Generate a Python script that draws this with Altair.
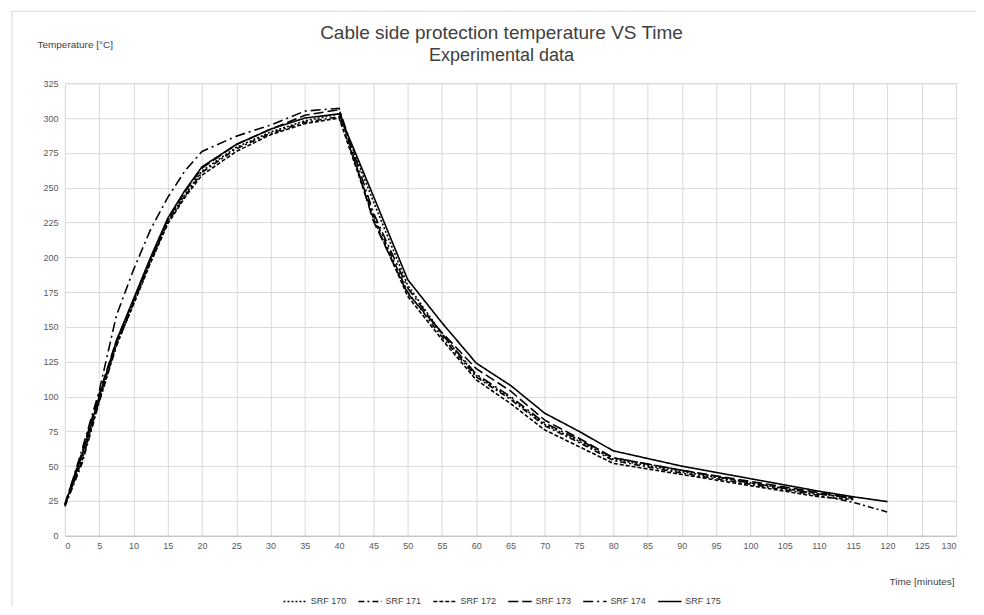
import altair as alt
import pandas as pd

FONT = "Liberation Sans Narrow, Liberation Sans, sans-serif"

times = [0, 2.5, 5, 7.5, 10, 12.5, 15, 17.5, 20, 25, 30, 35, 40, 45, 50, 55, 60, 65, 70, 75, 80, 90, 100, 110, 115, 120]
series_names = ["SRF 170", "SRF 171", "SRF 172", "SRF 173", "SRF 174", "SRF 175"]

srf170 = [22, 55, 98, 138, 168, 198, 226, 245, 262, 279, 290, 298, 303, 240, 180, 145, 115, 99, 80, 68, 55, 46, 38, 30, 27, None]
srf171 = [21, 52, 96, 136, 167, 197, 225, 244, 261, 278, 289, 297, 301, 230, 175, 143, 114, 98, 79, 67, 54, 45, 37, 29, 24, 17]
srf172 = [22, 54, 97, 137, 166, 196, 224, 243, 259, 276, 288, 296, 300, 228, 172, 141, 112, 95, 76, 64, 52, 44, 36, 28, 26, None]
srf173 = [23, 60, 102, 140, 169, 199, 227, 247, 264, 281, 292, 302, 306, 226, 174, 146, 120, 104, 83, 70, 56, 47, 39, 31, 27, None]
srf174 = [22, 62, 104, 158, 191, 220, 243, 262, 276, 287, 295, 305, 307, 232, 178, 145, 116, 100, 81, 69, 56, 47, 38, 30, 27, None]
srf175 = [22, 58, 100, 140, 170, 200, 228, 248, 265, 281, 292, 300, 303, 244, 184, 153, 124, 108, 88, 75, 61, 50, 41, 32, 28, 24.5]

title_lines = ["Cable side protection temperature VS Time", "Experimental data"]

all_values = [srf170, srf171, srf172, srf173, srf174, srf175]
dash_styles = [[2, 2], [6, 3, 2, 3], [4, 2], [10, 4], [10, 4, 2, 4], [1, 0]]

rows = []
for name, vals in zip(series_names, all_values):
    for t, v in zip(times, vals):
        if v is not None:
            rows.append({"time": t, "temp": v, "series": name})
df = pd.DataFrame(rows)

x_ticks = list(range(0, 131, 5))
y_ticks = list(range(0, 326, 25))

lines = alt.Chart(df).mark_line(strokeWidth=1.6, color="black").encode(
    x=alt.X("time:Q",
            scale=alt.Scale(domain=[0, 130], nice=False),
            axis=alt.Axis(values=x_ticks, title="Time  [minutes]", titleAngle=0,
                          titleX=890, titleY=46, titleAlign="right", titleBaseline="middle",
                          titleFontWeight="normal", titleFontSize=10, titleColor="#404040",
                          labelFontSize=9, labelColor="#595959", ticks=False,
                          labelPadding=6, domainColor="#bfbfbf", gridColor="#d9d9d9")),
    y=alt.Y("temp:Q",
            scale=alt.Scale(domain=[0, 325], nice=False),
            axis=alt.Axis(values=y_ticks, title="Temperature [°C]", titleAngle=0,
                          titleX=-28, titleY=-39, titleAlign="left", titleBaseline="middle",
                          titleFontWeight="normal", titleFontSize=10, titleColor="#404040",
                          labelFontSize=9, labelColor="#595959", ticks=False,
                          labelPadding=7, domainColor="#d9d9d9", gridColor="#d9d9d9")),
    strokeDash=alt.StrokeDash("series:N",
                              scale=alt.Scale(domain=series_names, range=dash_styles),
                              legend=alt.Legend(title=None, orient="none", direction="horizontal",
                                                legendX=218, legendY=506,
                                                symbolType="stroke", symbolStrokeColor="black",
                                                symbolStrokeWidth=1.4, symbolSize=550,
                                                labelFontSize=9, labelColor="#404040",
                                                columnPadding=8, labelOffset=3)),
    detail="series:N",
)

border = alt.Chart(pd.DataFrame({"a": [0]})).mark_rect(
    fill=None, stroke="#d9d9d9", strokeWidth=1
).encode(
    x=alt.value(-53), x2=alt.value(918), y=alt.value(-72), y2=alt.value(540)
)

title1 = alt.Chart(pd.DataFrame({"t": [title_lines[0]]})).mark_text(
    fontSize=19, color="#404040", align="center", baseline="middle", font=FONT
).encode(text="t:N", x=alt.value(437), y=alt.value(-50))

title2 = alt.Chart(pd.DataFrame({"t": [title_lines[1]]})).mark_text(
    fontSize=18, color="#404040", align="center", baseline="middle", font=FONT
).encode(text="t:N", x=alt.value(437), y=alt.value(-27))

chart = alt.layer(border, lines, title1, title2).properties(
    width=892,
    height=453,
    autosize=alt.AutoSizeParams(type="none"),
    padding={"left": 57, "top": 75, "right": 20, "bottom": 70},
).configure_view(stroke=None).configure(font=FONT).configure_axis(
    labelFont=FONT, titleFont=FONT
).configure_legend(labelFont=FONT)

chart.save("out.html", embed_options={"renderer": "svg", "actions": False})
